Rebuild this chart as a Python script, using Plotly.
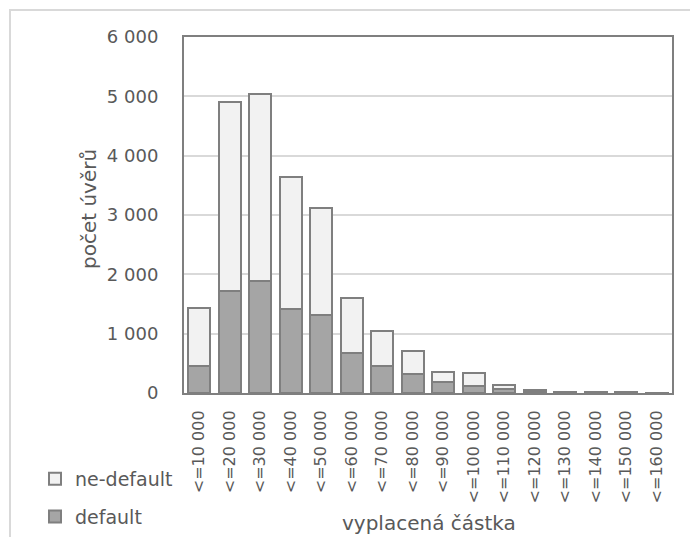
import plotly.graph_objects as go

# Loan counts by disbursed amount bucket, split by default status
categories = ["<=10 000", "<=20 000", "<=30 000", "<=40 000", "<=50 000",
              "<=60 000", "<=70 000", "<=80 000", "<=90 000", "<=100 000",
              "<=110 000", "<=120 000", "<=130 000", "<=140 000", "<=150 000",
              "<=160 000"]
default_counts = [460, 1720, 1890, 1410, 1310, 680, 460, 320, 185, 120,
                  70, 25, 10, 8, 6, 5]
non_default_counts = [970, 3190, 3150, 2225, 1815, 920, 585, 393, 169, 212,
                      65, 20, 8, 4, 4, 3]

FONT = "DejaVu Sans"
TEXT = "#595959"
EDGE = "#7f7f7f"

fig = go.Figure()
fig.add_trace(go.Bar(
    x=categories, y=default_counts, name="default",
    legendrank=2, legendgroup="d",
    marker=dict(color="#a5a5a5", line=dict(color=EDGE, width=2)),
))
fig.add_trace(go.Bar(
    x=categories, y=non_default_counts, name="ne-default",
    legendrank=1, legendgroup="n",
    marker=dict(color="#f2f2f2", line=dict(color=EDGE, width=2)),
))

L, R, T, B = 184, 18, 37, 144
W, H = 690, 537
pw, ph = W - L - R, H - T - B


def px(x):
    return (x - L) / pw


def py(y):
    return (H - B - y) / ph


fig.update_layout(
    width=W, height=H,
    margin=dict(l=L, r=R, t=T, b=B, pad=0, autoexpand=False),
    paper_bgcolor="white", plot_bgcolor="white",
    barmode="stack", bargap=0.28,
    separators=", ",
    font=dict(family=FONT, color=TEXT, size=18),
    showlegend=True,
    legend=dict(
        x=px(35), y=py(460), xanchor="left", yanchor="top",
        traceorder="grouped", tracegroupgap=10,
        font=dict(family=FONT, size=19, color=TEXT),
        bgcolor="rgba(0,0,0,0)", itemwidth=30,
    ),
    xaxis=dict(
        type="category", tickangle=-90, automargin=False,
        tickfont=dict(family=FONT, size=16, color=TEXT),
        showline=True, linecolor=EDGE, linewidth=2, mirror=True,
        showgrid=False, ticks="", ticklabelstandoff=9,
    ),
    yaxis=dict(
        range=[0, 6000], dtick=1000, tickformat=",d", automargin=False,
        tickfont=dict(family=FONT, size=18, color=TEXT),
        showline=True, linecolor=EDGE, linewidth=2, mirror=True,
        showgrid=True, gridcolor="#d9d9d9", gridwidth=2,
        ticks="", ticklabelstandoff=20, zeroline=False,
    ),
    annotations=[
        dict(text="počet úvěrů", xref="paper", yref="paper",
             x=px(89), y=py(209), textangle=-90, showarrow=False,
             xanchor="center", yanchor="middle",
             font=dict(family=FONT, size=20, color=TEXT)),
        dict(text="vyplacená částka", xref="paper", yref="paper",
             x=px(429), y=py(523), showarrow=False,
             xanchor="center", yanchor="middle",
             font=dict(family=FONT, size=20, color=TEXT)),
    ],
    shapes=[
        dict(type="rect", xref="paper", yref="paper",
             x0=px(10), y0=py(600), x1=px(720), y1=py(10),
             line=dict(color="#d9d9d9", width=2), layer="below"),
    ],
)

fig.write_html("out.html")
